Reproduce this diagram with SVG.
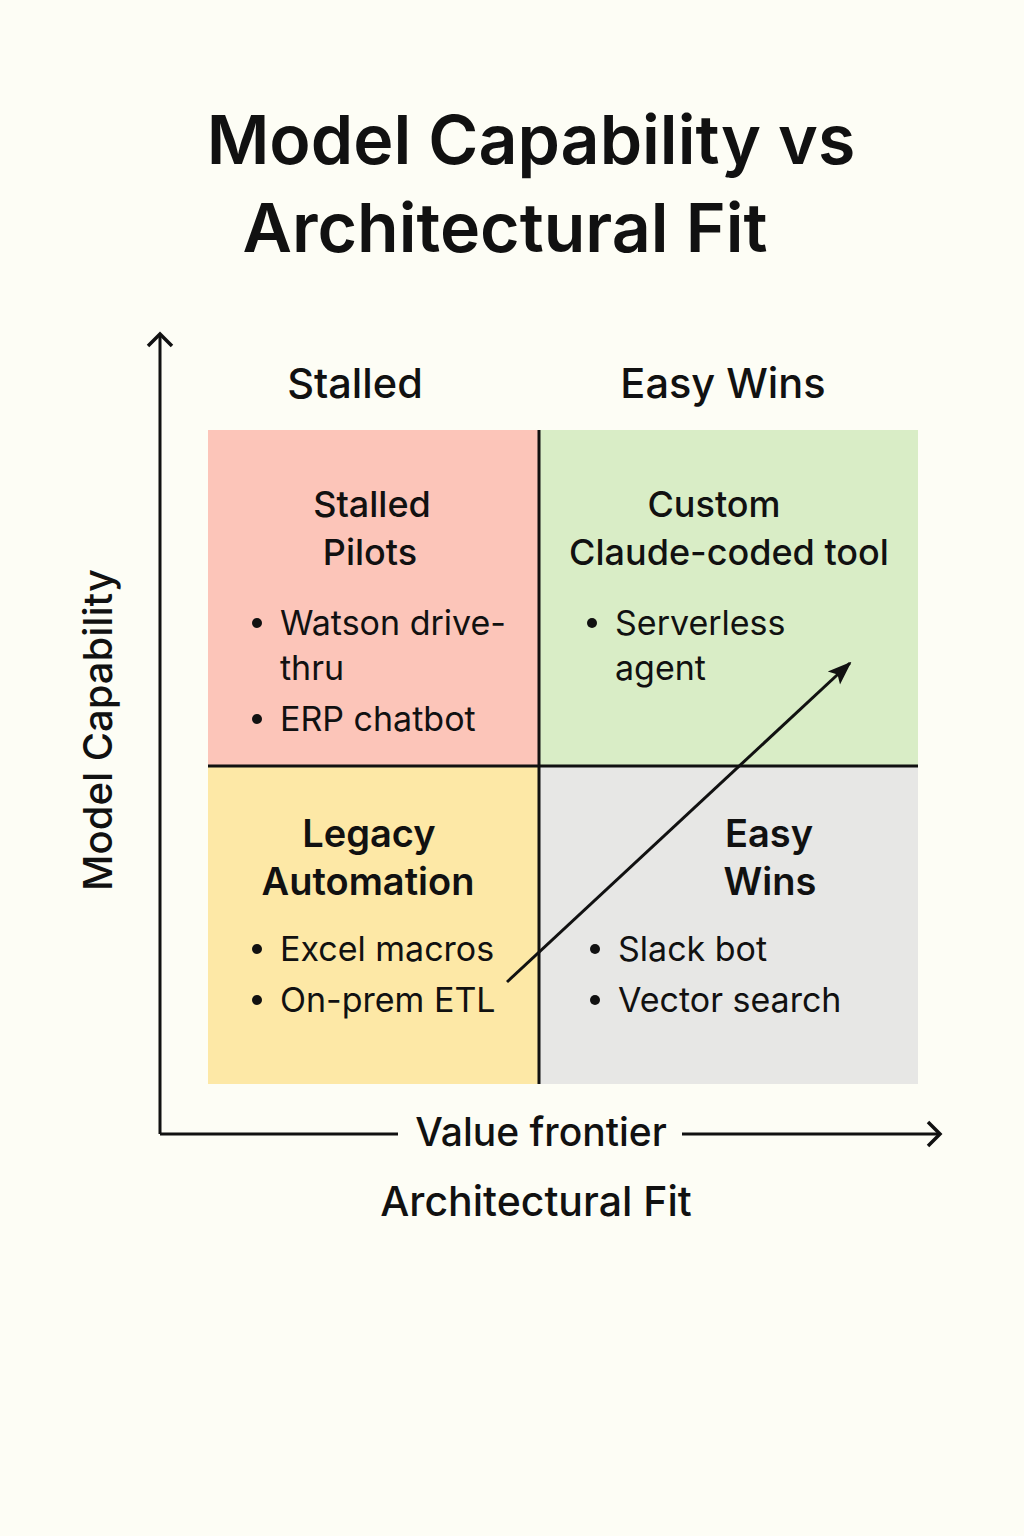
<svg xmlns="http://www.w3.org/2000/svg" width="1024" height="1536" viewBox="0 0 1024 1536">
<defs>
<style>
text{font-family:Inter,"Noto Sans","Liberation Sans",sans-serif;fill:#111}
.title{font-size:68px;font-weight:600;text-anchor:middle}
.hdr{font-size:41.5px;font-weight:500;text-anchor:middle}
.qt{font-size:36px;font-weight:500;text-anchor:middle}
.qb{font-size:38px;font-weight:600;text-anchor:middle}
.bl{font-size:34px;font-weight:400}
.ax{font-size:39px;font-weight:500;text-anchor:middle}
.line{stroke:#111;stroke-width:3;fill:none}
</style>
<marker id="open" viewBox="0 0 24 28" refX="14" refY="14" markerWidth="24" markerHeight="28" markerUnits="userSpaceOnUse" orient="auto">
<path d="M2,2 L14,14 L2,26" fill="none" stroke="#111" stroke-width="3.5"/>
</marker>
<marker id="fill" viewBox="0 0 24 20" refX="22" refY="10" markerWidth="24" markerHeight="20" markerUnits="userSpaceOnUse" orient="auto">
<path d="M0,1 L24,10 L0,19 L5,10 Z" fill="#111"/>
</marker>
</defs>
<rect width="1024" height="1536" fill="#fdfdf5"/>
<g id="title">
<text class="title" x="531" y="164">Model Capability vs</text>
<text class="title" x="505" y="252">Architectural Fit</text>
</g>
<g id="headers">
<text class="hdr" x="355" y="398">Stalled</text>
<text class="hdr" x="723" y="398">Easy Wins</text>
</g>
<g id="q-stalled">
<rect x="208" y="430" width="331" height="336" fill="#fcc5b9"/>
<text class="qt" x="372" y="517">Stalled</text>
<text class="qt" x="370" y="565">Pilots</text>
<circle cx="257" cy="623" r="5" fill="#111"/>
<text class="bl" x="280" y="635">Watson drive-</text>
<text class="bl" x="280" y="680">thru</text>
<circle cx="257" cy="719" r="5" fill="#111"/>
<text class="bl" x="280" y="731">ERP chatbot</text>
</g>
<g id="q-custom">
<rect x="539" y="430" width="379" height="336" fill="#d9edc6"/>
<text class="qt" x="714" y="517">Custom</text>
<text class="qt" x="729" y="565">Claude-coded tool</text>
<circle cx="592" cy="623" r="5" fill="#111"/>
<text class="bl" x="615" y="635">Serverless</text>
<text class="bl" x="615" y="680">agent</text>
</g>
<g id="q-legacy">
<rect x="208" y="766" width="331" height="318" fill="#fde8a6"/>
<text class="qb" x="369" y="847">Legacy</text>
<text class="qb" x="368" y="895">Automation</text>
<circle cx="257" cy="949" r="5" fill="#111"/>
<text class="bl" x="280" y="961">Excel macros</text>
<circle cx="257" cy="1000" r="5" fill="#111"/>
<text class="bl" x="280" y="1012">On-prem ETL</text>
</g>
<g id="q-easy">
<rect x="539" y="766" width="379" height="318" fill="#e7e7e5"/>
<text class="qb" x="769" y="847">Easy</text>
<text class="qb" x="770" y="895">Wins</text>
<circle cx="595" cy="949" r="5" fill="#111"/>
<text class="bl" x="618" y="961">Slack bot</text>
<circle cx="595" cy="1000" r="5" fill="#111"/>
<text class="bl" x="618" y="1012">Vector search</text>
</g>
<g id="connectors">
<line class="line" x1="539" y1="430" x2="539" y2="1084"/>
<line class="line" x1="208" y1="766" x2="918" y2="766"/>
<line class="line" x1="160" y1="1134" x2="160" y2="334" marker-end="url(#open)"/>
<line class="line" x1="160" y1="1134" x2="398" y2="1134"/>
<line class="line" x1="682" y1="1134" x2="940" y2="1134" marker-end="url(#open)"/>
<line class="line" x1="507" y1="982" x2="850" y2="663" marker-end="url(#fill)"/>
</g>
<g id="axis-labels">
<text class="ax" transform="translate(112,730) rotate(-90)" style="font-size:40px">Model Capability</text>
<text class="ax" x="541" y="1146">Value frontier</text>
<text class="ax" x="536" y="1216" style="font-size:41px">Architectural Fit</text>
</g>
</svg>
